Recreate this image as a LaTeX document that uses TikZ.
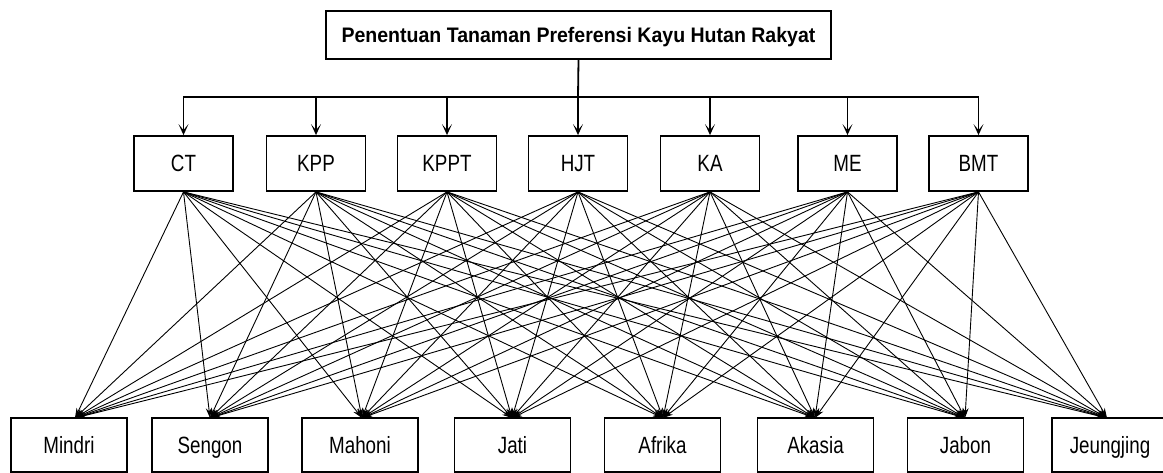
\documentclass[tikz,border=0pt]{standalone}
\usepackage{fontspec}
\setmainfont{Liberation Sans}
\newfontfamily\lblfont[FakeStretch=0.8]{Liberation Sans}
\newfontfamily\ttlfont[FakeStretch=0.93]{Liberation Sans}
\usetikzlibrary{arrows.meta}
\begin{document}
\begin{tikzpicture}[x=1pt,y=-1pt,
  boxbase/.style={draw, line width=1.8pt, rectangle, inner sep=0pt},
  crit/.style={boxbase, minimum width=99pt, minimum height=55pt, text height=17pt, text depth=0pt, font=\lblfont\fontsize{23.5}{26}\selectfont},
  alt/.style={boxbase, minimum width=116pt, minimum height=54pt, text height=17pt, text depth=0pt, font=\lblfont\fontsize{23.5}{26}\selectfont},
  goal/.style={boxbase, minimum width=505pt, minimum height=48pt, text height=15pt, text depth=0pt, font=\ttlfont\bfseries\fontsize{21}{24}\selectfont},
  busline/.style={line width=1.8pt},
  downarrow/.style={line width=1.8pt, -{Stealth[length=11pt,width=10pt,inset=6pt]}},
  link/.style={line width=0.9pt, -{Stealth[length=10pt,width=6pt]}}
]
\useasboundingbox (0,0) rectangle (1163,473);
\fill[white] (0,0) rectangle (1163,473);

\node[goal] (goal) at (578.5,35) {Penentuan Tanaman Preferensi Kayu Hutan Rakyat};

\node[crit] (CT)   at (183.5,163.5) {CT};
\node[crit] (KPP)  at (316,163.5) {KPP};
\node[crit] (KPPT) at (447,163.5) {KPPT};
\node[crit] (HJT)  at (578,163.5) {HJT};
\node[crit] (KA)   at (710,163.5) {KA};
\node[crit] (ME)   at (847.5,163.5) {ME};
\node[crit] (BMT)  at (978.5,163.5) {BMT};

\node[alt] (A1) at (69,445) {Mindri};
\node[alt] (A2) at (210,445) {Sengon};
\node[alt] (A3) at (360,445) {Mahoni};
\node[alt] (A4) at (512.5,445) {Jati};
\node[alt] (A5) at (662.5,445) {Afrika};
\node[alt] (A6) at (815.5,445) {Akasia};
\node[alt] (A7) at (965.5,445) {Jabon};
\node[alt] (A8) at (1110,445) {Jeungjing};

\coordinate (bus) at (578,97);
\draw[busline] (goal.south) -- (bus);
\foreach \c in {CT,KPP,KPPT,HJT,KA,ME,BMT}{
  \draw[downarrow] (bus) -| (\c.north);
}

\coordinate (t1) at (75,418);
\coordinate (t2) at (210,418);
\coordinate (t3) at (362,418);
\coordinate (t4) at (512,418);
\coordinate (t5) at (663,418);
\coordinate (t6) at (815,418);
\coordinate (t7) at (965,418);
\coordinate (t8) at (1107,418);

\foreach \c in {CT,KPP,KPPT,HJT,KA,ME,BMT}{
  \foreach \a in {t1,t2,t3,t4,t5,t6,t7,t8}{
    \draw[link] (\c.south) -- (\a);
  }
}
\end{tikzpicture}
\end{document}
